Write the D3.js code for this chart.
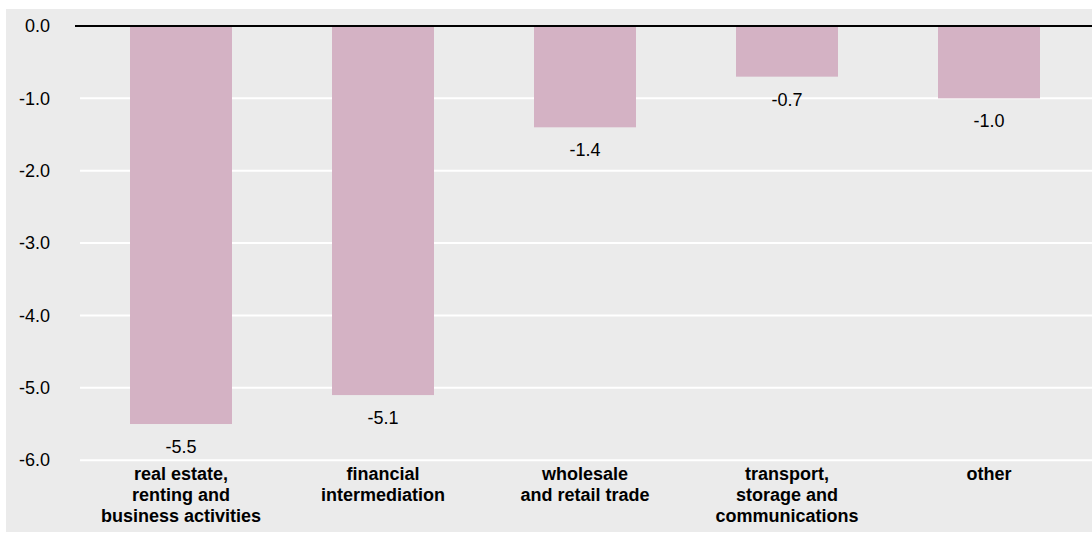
<!DOCTYPE html>
<html>
<head>
<meta charset="utf-8">
<script src="https://cdn.jsdelivr.net/npm/d3@7/dist/d3.min.js"></script>
<style>
  html, body { margin: 0; padding: 0; background: #ffffff; }
  svg { display: block; }
  text { font-family: "Liberation Sans", Arial, Helvetica, sans-serif; fill: #000; }
</style>
</head>
<body>
<svg id="chart" width="1092" height="533"></svg>
<script>
// Sector categories (label lines) and their values
const categories = [
  ["real estate,", "renting and", "business activities"],
  ["financial", "intermediation"],
  ["wholesale", "and retail trade"],
  ["transport,", "storage and", "communications"],
  ["other"]
];
const values = [-5.5, -5.1, -1.4, -0.7, -1.0];
const yTicks = [0, -1, -2, -3, -4, -5, -6];

const W = 1092, H = 533;
const svg = d3.select("#chart");
// one decimal, plain hyphen for negatives
const fmt = d => (Math.abs(d) < 1e-9 ? 0 : d).toFixed(1);

// panel background
svg.append("rect")
  .attr("x", 6).attr("y", 9)
  .attr("width", W - 6).attr("height", H - 10)
  .attr("fill", "#ebebeb");

const x = d3.scaleBand()
  .domain(d3.range(values.length))
  .range([80, 1090])
  .paddingInner(0.495)
  .paddingOuter(0.2475);

const y = d3.scaleLinear()
  .domain([0, -6])
  .range([26, 460.2]);

// horizontal grid lines
svg.append("g")
  .selectAll("line")
  .data(yTicks.filter(d => d !== 0))
  .join("line")
  .attr("x1", 80).attr("x2", W)
  .attr("y1", d => y(d)).attr("y2", d => y(d))
  .attr("stroke", "#ffffff")
  .attr("stroke-width", 2);

// y axis labels
const yAxis = d3.axisLeft(y)
  .tickValues(yTicks)
  .tickFormat(fmt)
  .tickSize(0)
  .tickPadding(0);
const gy = svg.append("g")
  .attr("transform", "translate(50,0)")
  .call(yAxis);
gy.select(".domain").remove();
gy.selectAll("text")
  .attr("font-size", 18)
  .attr("font-family", "Liberation Sans, Arial, sans-serif")
  .attr("fill", "#000");

// bars
svg.append("g")
  .selectAll("rect")
  .data(values)
  .join("rect")
  .attr("x", (d, i) => x(i))
  .attr("width", x.bandwidth())
  .attr("y", d => y(0))
  .attr("height", d => y(d) - y(0))
  .attr("fill", "#d4b2c4");

// value labels under each bar
svg.append("g")
  .selectAll("text")
  .data(values)
  .join("text")
  .attr("x", (d, i) => x(i) + x.bandwidth() / 2)
  .attr("y", d => y(d) + 29)
  .attr("text-anchor", "middle")
  .attr("font-size", 18)
  .text(fmt);

// zero line
svg.append("line")
  .attr("x1", 75).attr("x2", W)
  .attr("y1", y(0)).attr("y2", y(0))
  .attr("stroke", "#000")
  .attr("stroke-width", 2);

// category labels
const cat = svg.append("g")
  .selectAll("text")
  .data(categories)
  .join("text")
  .attr("x", (d, i) => x(i) + x.bandwidth() / 2)
  .attr("y", 480)
  .attr("text-anchor", "middle")
  .attr("font-size", 18)
  .attr("font-weight", "bold");
cat.selectAll("tspan")
  .data(d => d)
  .join("tspan")
  .attr("x", function () { return d3.select(this.parentNode).attr("x"); })
  .attr("dy", (d, j) => j === 0 ? 0 : 21)
  .text(d => d);
</script>
</body>
</html>
